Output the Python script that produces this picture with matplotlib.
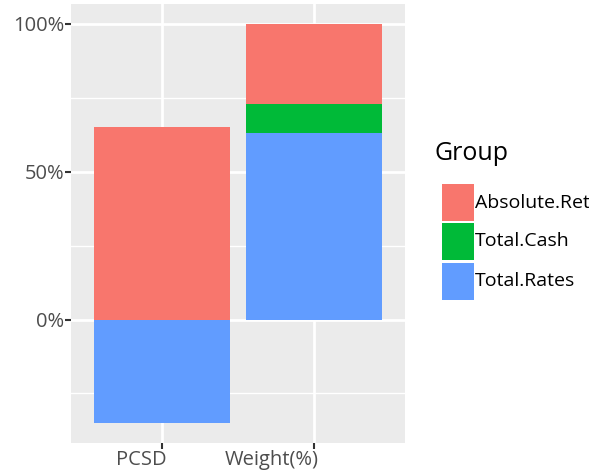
import numpy as np
import matplotlib.pyplot as plt
from matplotlib.patches import Rectangle
from matplotlib.ticker import FuncFormatter
from matplotlib.transforms import ScaledTranslation

plt.rcParams['font.family'] = ['Open Sans', 'DejaVu Sans']

# data
categories = ['PCSD', 'Weight(%)']
values = {
    'Total.Rates': [-0.35, 0.63],
    'Total.Cash': [0.0, 0.10],
    'Absolute.Return': [0.65, 0.27],
}
colors = {'Absolute.Return': '#F8766D', 'Total.Cash': '#00BA38', 'Total.Rates': '#619CFF'}
legend_labels = ['Absolute.Return', 'Total.Cash', 'Total.Rates']

W, H = 589, 472
fig = plt.figure(figsize=(W / 100, H / 100), dpi=100)
ax = fig.add_axes([71 / W, 1 - 443 / H, (405 - 71) / W, (443 - 4) / H])
ax.set_facecolor('#EBEBEB')

x = np.arange(1, len(categories) + 1)
pos_base = np.zeros(len(categories))
neg_base = np.zeros(len(categories))
# stack bottom-up: rates, cash, absolute return
for g in ['Total.Rates', 'Total.Cash', 'Absolute.Return']:
    v = np.array(values[g])
    bottom = np.where(v >= 0, pos_base, neg_base)
    ax.bar(x, v, 0.9, bottom=bottom, color=colors[g], zorder=3, linewidth=0)
    pos_base = pos_base + np.where(v >= 0, v, 0)
    neg_base = neg_base + np.where(v < 0, v, 0)

ax.set_xlim(0.4, 2.6)
ax.set_ylim(-0.4175, 1.0675)
ax.set_xticks(x)
ax.set_xticklabels(categories)
ax.set_yticks([0, 0.5, 1.0])
ax.set_yticks([-0.25, 0.25, 0.75], minor=True)
ax.yaxis.set_major_formatter(FuncFormatter(lambda v, p: '%d%%' % round(v * 100)))

ax.grid(which='major', color='white', linewidth=2, zorder=0)
ax.grid(which='minor', axis='y', color='white', linewidth=1, zorder=0)
ax.set_axisbelow(True)
for s in ax.spines.values():
    s.set_visible(False)
ax.tick_params(which='major', length=4, width=1.5, color='#333333',
               labelcolor='#4D4D4D', labelsize=14.5, pad=1)
ax.tick_params(which='minor', length=0)

# x labels sit a little left of their ticks in the original
for lab, dx in zip(ax.get_xticklabels(), [-21, -42]):
    lab.set_transform(lab.get_transform() + ScaledTranslation(dx / 100, 0, fig.dpi_scale_trans))

# legend drawn by hand
def fx(px):
    return px / W

def fy(py):
    return 1 - py / H

fig.text(fx(434), fy(154), 'Group', fontsize=18, va='center', ha='left')
key_tops = [184, 223, 263]
for lab, top in zip(legend_labels, key_tops):
    fig.add_artist(Rectangle((fx(442), fy(top + 37)), 32 / W, 37 / H,
                             transform=fig.transFigure, color=colors[lab], lw=0))
    fig.text(fx(475), fy(top + 18.5), lab, fontsize=14, va='center', ha='left')

fig.savefig('out.png', dpi=100)
